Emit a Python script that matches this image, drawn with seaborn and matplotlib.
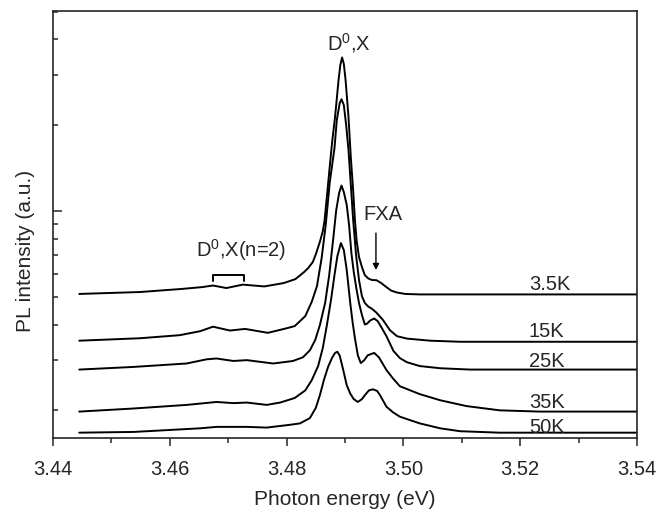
import numpy as np
import pandas as pd
import matplotlib
matplotlib.use("Agg")
import matplotlib.pyplot as plt
import seaborn as sns

# PL spectra (y axis is logarithmic, arbitrary units)
e_35 = [3.4445, 3.4549, 3.4620, 3.4655, 3.4674, 3.4697, 3.4725, 3.4762, 3.4795, 3.4815,
        3.4830, 3.4837, 3.4845, 3.4850, 3.4857, 3.4862, 3.4865, 3.4868, 3.4871, 3.4874,
        3.4878, 3.4883, 3.4889, 3.4892, 3.4895, 3.4898, 3.4901, 3.4906, 3.4910, 3.4914,
        3.4917, 3.4920, 3.4924, 3.4929, 3.4934, 3.4940, 3.4946, 3.4954, 3.4962, 3.4971,
        3.4979, 3.4989, 3.5003, 3.5028, 3.5400]
i_35 = [0.512, 0.520, 0.533, 0.541, 0.548, 0.537, 0.552, 0.544, 0.559, 0.577,
        0.611, 0.631, 0.663, 0.705, 0.780, 0.850, 0.925, 1.070, 1.240, 1.440,
        1.746, 2.137, 2.882, 3.253, 3.457, 3.280, 2.882, 2.137, 1.540, 1.180,
        0.930, 0.785, 0.690, 0.636, 0.596, 0.580, 0.573, 0.572, 0.559, 0.541,
        0.526, 0.518, 0.512, 0.510, 0.510]

e_15 = [3.4445, 3.4549, 3.4617, 3.4652, 3.4674, 3.4703, 3.4729, 3.4768, 3.4800, 3.4814,
        3.4832, 3.4843, 3.4852, 3.4860, 3.4867, 3.4874, 3.4882, 3.4886, 3.4891, 3.4894,
        3.4898, 3.4902, 3.4906, 3.4910, 3.4914, 3.4919, 3.4924, 3.4929, 3.4934, 3.4940,
        3.4945, 3.4953, 3.4965, 3.4977, 3.4989, 3.5006, 3.5046, 3.5097, 3.5400]
i_15 = [0.351, 0.358, 0.367, 0.379, 0.393, 0.381, 0.386, 0.374, 0.388, 0.395,
        0.428, 0.480, 0.545, 0.684, 0.893, 1.264, 1.660, 2.086, 2.393, 2.466,
        2.355, 2.003, 1.637, 1.234, 0.930, 0.701, 0.573, 0.503, 0.476, 0.462,
        0.456, 0.442, 0.415, 0.382, 0.364, 0.357, 0.351, 0.348, 0.348]

e_25 = [3.4445, 3.4538, 3.4629, 3.4663, 3.4680, 3.4709, 3.4732, 3.4777, 3.4789, 3.4811,
        3.4828, 3.4840, 3.4849, 3.4857, 3.4866, 3.4873, 3.4880, 3.4885, 3.4890, 3.4894,
        3.4898, 3.4903, 3.4907, 3.4911, 3.4915, 3.4920, 3.4924, 3.4929, 3.4934, 3.4938,
        3.4943, 3.4950, 3.4956, 3.4963, 3.4971, 3.4983, 3.4994, 3.5006, 3.5028, 3.5063,
        3.5114, 3.5400]
i_25 = [0.278, 0.284, 0.292, 0.302, 0.304, 0.298, 0.300, 0.292, 0.294, 0.298,
        0.307, 0.325, 0.353, 0.398, 0.476, 0.596, 0.804, 1.008, 1.157, 1.229,
        1.166, 1.050, 0.893, 0.712, 0.611, 0.528, 0.476, 0.432, 0.400, 0.403,
        0.413, 0.420, 0.411, 0.389, 0.364, 0.323, 0.305, 0.295, 0.286, 0.281,
        0.278, 0.278]

e_35k = [3.4445, 3.4538, 3.4629, 3.4680, 3.4709, 3.4732, 3.4766, 3.4789, 3.4814, 3.4832,
         3.4843, 3.4854, 3.4862, 3.4869, 3.4876, 3.4882, 3.4887, 3.4893, 3.4898, 3.4903,
         3.4909, 3.4913, 3.4917, 3.4922, 3.4927, 3.4933, 3.4939, 3.4950, 3.4958, 3.4971,
         3.4982, 3.4994, 3.5028, 3.5063, 3.5108, 3.5165, 3.5234, 3.5400]
i_35k = [0.198, 0.203, 0.209, 0.214, 0.212, 0.213, 0.209, 0.213, 0.221, 0.235,
         0.255, 0.286, 0.331, 0.398, 0.487, 0.596, 0.695, 0.772, 0.730, 0.621,
         0.476, 0.408, 0.358, 0.312, 0.293, 0.300, 0.312, 0.318, 0.307, 0.277,
         0.259, 0.243, 0.228, 0.217, 0.207, 0.200, 0.198, 0.198]

e_50 = [3.4445, 3.4538, 3.4652, 3.4680, 3.4732, 3.4766, 3.4806, 3.4823, 3.4840, 3.4850,
        3.4857, 3.4864, 3.4871, 3.4878, 3.4883, 3.4887, 3.4891, 3.4897, 3.4903, 3.4909,
        3.4915, 3.4922, 3.4929, 3.4934, 3.4941, 3.4948, 3.4955, 3.4960, 3.4971, 3.4982,
        3.4994, 3.5028, 3.5063, 3.5097, 3.5165, 3.5400]
i_50 = [0.167, 0.168, 0.173, 0.175, 0.175, 0.174, 0.178, 0.180, 0.188, 0.204,
        0.226, 0.256, 0.284, 0.306, 0.318, 0.321, 0.311, 0.277, 0.245, 0.229,
        0.219, 0.214, 0.219, 0.226, 0.235, 0.237, 0.234, 0.226, 0.206, 0.197,
        0.190, 0.180, 0.173, 0.169, 0.167, 0.167]

temps = ["3.5K", "15K", "25K", "35K", "50K"]
energies = [e_35, e_15, e_25, e_35k, e_50]
intens = [i_35, i_15, i_25, i_35k, i_50]
# where each temperature label sits (left edge, baseline)
label_e = 3.5215
label_i = [0.528, 0.361, 0.284, 0.204, 0.1664]

frames = []
for t, e, i in zip(temps, energies, intens):
    frames.append(pd.DataFrame({"energy": e, "intensity": i, "T": t}))
df = pd.concat(frames, ignore_index=True)

sns.set_style("ticks")
plt.rcParams["font.family"] = ["Liberation Sans", "DejaVu Sans"]
plt.rcParams["mathtext.fontset"] = "custom"
plt.rcParams["mathtext.rm"] = "Liberation Sans"

fig = plt.figure(figsize=(6.68, 5.14), dpi=100)
ax = fig.add_axes([0.0793, 0.1479, 0.8743, 0.8307])

sns.lineplot(data=df, x="energy", y="intensity", units="T", estimator=None,
             sort=False, color="black", lw=1.4, ax=ax)

ax.set_yscale("log")
ax.set_xlim(3.44, 3.54)
ax.set_ylim(0.16, 5.03)

ax.set_xticks(np.arange(3.44, 3.5401, 0.02))
ax.set_xticklabels(["3.44", "3.46", "3.48", "3.50", "3.52", "3.54"])
ax.set_xticks(np.arange(3.45, 3.54, 0.02), minor=True)
ax.tick_params(axis="x", which="major", direction="out", length=6, width=1.1,
               labelsize=14.5, pad=10)
ax.tick_params(axis="x", which="minor", direction="out", length=3.6, width=1.1)
ax.tick_params(axis="y", which="major", direction="in", length=6.5, width=1.1,
               labelleft=False)
ax.tick_params(axis="y", which="minor", direction="in", length=3.6, width=1.1,
               labelleft=False)
for s in ax.spines.values():
    s.set_linewidth(1.2)

ax.set_xlabel("Photon energy (eV)", fontsize=15, labelpad=8)
ax.set_ylabel("PL intensity (a.u.)", fontsize=15)
ax.yaxis.set_label_coords(-0.031, 0.437)

# annotations
ax.text(3.4907, 3.672, r"D$^{\mathregular{0}}$,X", fontsize=14.5, ha="center",
        va="baseline")
ax.text(3.4723, 0.690, r"D$^{\mathregular{0}}$,X(n=2)", fontsize=14.5, ha="center",
        va="baseline")
ax.plot([3.4674, 3.4674, 3.4727, 3.4727], [0.568, 0.596, 0.596, 0.568],
        color="black", lw=1.4)
ax.text(3.4965, 0.930, "FXA", fontsize=14.5, ha="center", va="baseline")
ax.annotate("", xy=(3.4953, 0.621), xytext=(3.4953, 0.837),
            arrowprops=dict(arrowstyle="-|>", color="black", lw=1.0,
                            mutation_scale=9, shrinkA=0, shrinkB=0))
for t, yi in zip(temps, label_i):
    ax.text(label_e, yi, t, fontsize=14.5, ha="left", va="baseline")

fig.savefig("out.png", dpi=100)
